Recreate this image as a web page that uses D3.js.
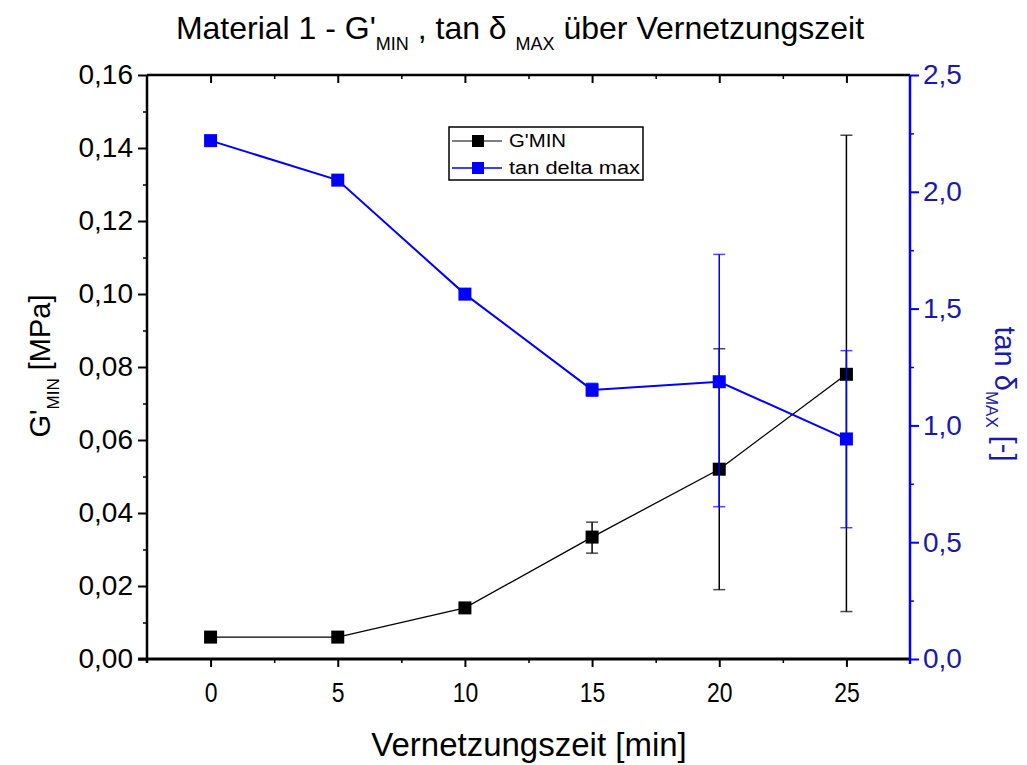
<!DOCTYPE html>
<html><head><meta charset="utf-8">
<script src="https://cdn.jsdelivr.net/npm/d3@7/dist/d3.min.js"></script>
<style>body{margin:0;background:#fff}svg{display:block}</style>
</head><body>
<svg id="c" width="1027" height="765"></svg>
<script>
const times = [0, 5, 10, 15, 20, 25];
const gMin = [0.006, 0.006, 0.014, 0.0334, 0.052, 0.078];
const gMinErrLow = [0.006, 0.006, 0.014, 0.029, 0.019, 0.013];
const gMinErrHigh = [0.006, 0.006, 0.014, 0.0375, 0.085, 0.1435];
const tanMax = [2.219, 2.050, 1.562, 1.152, 1.187, 0.942];
const tanErrLow = [2.219, 2.050, 1.562, 1.125, 0.652, 0.562];
const tanErrHigh = [2.219, 2.050, 1.562, 1.18, 1.732, 1.320];
const xTicks = [0, 5, 10, 15, 20, 25];
const yLeftTicks = [0, 0.02, 0.04, 0.06, 0.08, 0.10, 0.12, 0.14, 0.16];
const yRightTicks = [0, 0.5, 1.0, 1.5, 2.0, 2.5];
const legendLabels = ["G'MIN", "tan delta max"];

const BLUE = "#0000ff";
const svg = d3.select("#c");
const L = 147, R = 910, T = 75, B = 659;
const x = d3.scaleLinear().domain([-2.5, 27.5]).range([L, R]);
const yL = d3.scaleLinear().domain([0, 0.16]).range([B, T]);
const yR = d3.scaleLinear().domain([0, 2.5]).range([B, T]);
const comma = f => v => d3.format(f)(v).replace('.', ',');
const FONT = "'Liberation Sans', Arial, sans-serif";

function minors(major) {
  const out = [];
  for (let i = 0; i < major.length - 1; i++) out.push((major[i] + major[i+1]) / 2);
  return out;
}
const xMinor = [2.5, 7.5, 12.5, 17.5, 22.5];

// Bottom axis
const gx = svg.append("g").attr("transform", `translate(0,${B})`)
  .call(d3.axisBottom(x).tickValues(xTicks).tickSize(8).tickSizeOuter(0).tickPadding(15).tickFormat(d3.format("d")));
gx.select(".domain").remove();
gx.selectAll("text").attr("font-family", FONT).attr("font-size", 28).attr("fill", "#000")
  .attr("transform", "scale(0.82,1)");
gx.selectAll("line").attr("stroke", "#000").attr("stroke-width", 2);
svg.append("g").attr("transform", `translate(0,${B})`)
  .call(d3.axisBottom(x).tickValues(xMinor).tickSize(4).tickFormat(""))
  .call(g => { g.select(".domain").remove(); g.selectAll("line").attr("stroke", "#000").attr("stroke-width", 1.5); });

// Top axis (inward ticks)
svg.append("g").attr("transform", `translate(0,${T})`)
  .call(d3.axisBottom(x).tickValues(xTicks).tickSize(8).tickFormat(""))
  .call(g => { g.select(".domain").remove(); g.selectAll("line").attr("stroke", "#000").attr("stroke-width", 2); });
svg.append("g").attr("transform", `translate(0,${T})`)
  .call(d3.axisBottom(x).tickValues(xMinor).tickSize(4).tickFormat(""))
  .call(g => { g.select(".domain").remove(); g.selectAll("line").attr("stroke", "#000").attr("stroke-width", 1.5); });

// Left axis
const gl = svg.append("g").attr("transform", `translate(${L},0)`)
  .call(d3.axisLeft(yL).tickValues(yLeftTicks).tickSize(9).tickSizeOuter(0).tickPadding(5).tickFormat(comma(".2f")));
gl.select(".domain").remove();
gl.selectAll("text").attr("font-family", FONT).attr("font-size", 28).attr("fill", "#000");
gl.selectAll("line").attr("stroke", "#000").attr("stroke-width", 2);
svg.append("g").attr("transform", `translate(${L},0)`)
  .call(d3.axisLeft(yL).tickValues(minors(yLeftTicks)).tickSize(4).tickFormat(""))
  .call(g => { g.select(".domain").remove(); g.selectAll("line").attr("stroke", "#000").attr("stroke-width", 1.5); });

// Right axis
const gr = svg.append("g").attr("transform", `translate(${R},0)`)
  .call(d3.axisRight(yR).tickValues(yRightTicks).tickSize(9).tickSizeOuter(0).tickPadding(4).tickFormat(comma(".1f")));
gr.select(".domain").remove();
gr.selectAll("text").attr("font-family", FONT).attr("font-size", 28).attr("fill", "#1a1aa8");
gr.selectAll("line").attr("stroke", BLUE).attr("stroke-width", 2);
svg.append("g").attr("transform", `translate(${R},0)`)
  .call(d3.axisRight(yR).tickValues(minors(yRightTicks)).tickSize(4).tickFormat(""))
  .call(g => { g.select(".domain").remove(); g.selectAll("line").attr("stroke", BLUE).attr("stroke-width", 1.5); });

// Frame lines
svg.append("line").attr("x1", L).attr("x2", R).attr("y1", T).attr("y2", T).attr("stroke", "#000").attr("stroke-width", 2.5);
svg.append("line").attr("x1", L).attr("x2", L).attr("y1", T).attr("y2", B + 4).attr("stroke", "#000").attr("stroke-width", 2.5);
svg.append("line").attr("x1", L - 9).attr("x2", R).attr("y1", B).attr("y2", B).attr("stroke", "#000").attr("stroke-width", 3);
svg.append("line").attr("x1", R).attr("x2", R).attr("y1", T).attr("y2", B + 5).attr("stroke", BLUE).attr("stroke-width", 2.5);

// Data
const gData = times.map((t, i) => ({t, v: gMin[i], lo: gMinErrLow[i], hi: gMinErrHigh[i]}));
const tData = times.map((t, i) => ({t, v: tanMax[i], lo: tanErrLow[i], hi: tanErrHigh[i]}));

function series(data, y, color, lw) {
  const g = svg.append("g");
  g.append("path").datum(data)
    .attr("d", d3.line().x(d => x(d.t)).y(d => y(d.v)))
    .attr("fill", "none").attr("stroke", color).attr("stroke-width", lw);
  g.selectAll("rect").data(data).join("rect")
    .attr("x", d => x(d.t) - 6.5).attr("y", d => y(d.v) - 6.5)
    .attr("width", 13).attr("height", 13).attr("fill", color);
  const eb = data.filter(d => d.hi - d.lo > 1e-9);
  g.selectAll("line.err").data(eb).join("line").attr("class", "err")
    .attr("x1", d => x(d.t)).attr("x2", d => x(d.t))
    .attr("y1", d => y(d.lo)).attr("y2", d => y(d.hi))
    .attr("stroke", color).attr("stroke-width", 1.5);
  ["lo", "hi"].forEach(k => {
    g.selectAll("line.cap" + k).data(eb).join("line").attr("class", "cap" + k)
      .attr("x1", d => x(d.t) - 6).attr("x2", d => x(d.t) + 6)
      .attr("y1", d => y(d[k])).attr("y2", d => y(d[k]))
      .attr("stroke", color).attr("stroke-width", 1.5).attr("opacity", 0.7);
  });
}
series(gData, yL, "#000", 1.3);
series(tData, yR, BLUE, 2);

// Legend
const lg = svg.append("g");
lg.append("rect").attr("x", 449).attr("y", 127).attr("width", 194).attr("height", 53)
  .attr("fill", "#fff").attr("stroke", "#000").attr("stroke-width", 1.5);
[["#000", 141], [BLUE, 168]].forEach(([c, yy], i) => {
  lg.append("line").attr("x1", 452).attr("x2", 502).attr("y1", yy).attr("y2", yy)
    .attr("stroke", i === 0 ? "#555" : BLUE).attr("stroke-width", 1.5);
  lg.append("rect").attr("x", 472).attr("y", yy - 6).attr("width", 12).attr("height", 12).attr("fill", c);
  lg.append("text").attr("x", 509).attr("y", yy + 6).attr("font-family", FONT).attr("font-size", 18)
    .attr("fill", "#000").attr("textLength", i === 0 ? 57 : 131).attr("lengthAdjust", "spacingAndGlyphs")
    .text(legendLabels[i]);
});

// Title
const title = svg.append("text").attr("x", 520).attr("y", 39).attr("text-anchor", "middle")
  .attr("font-family", FONT).attr("font-size", 32).attr("fill", "#000");
title.append("tspan").text("Material 1 - G'");
title.append("tspan").attr("font-size", 18).attr("dy", 11).text("MIN");
title.append("tspan").attr("dy", -11).text(" , tan δ ");
title.append("tspan").attr("font-size", 18).attr("dy", 11).text("MAX");
title.append("tspan").attr("dy", -11).text(" über Vernetzungszeit");

// X title
svg.append("text").attr("x", 529).attr("y", 756).attr("text-anchor", "middle")
  .attr("font-family", FONT).attr("font-size", 33).attr("fill", "#000").text("Vernetzungszeit [min]");

// Left y title
const yt = svg.append("text").attr("transform", "translate(50,366) rotate(-90)").attr("text-anchor", "middle")
  .attr("font-family", FONT).attr("font-size", 29).attr("fill", "#000");
yt.append("tspan").text("G'");
yt.append("tspan").attr("font-size", 17).attr("dy", 9).text("MIN");
yt.append("tspan").attr("dy", -9).text(" [MPa]");

// Right y title
const rt = svg.append("text").attr("transform", "translate(995,394) rotate(90)").attr("text-anchor", "middle")
  .attr("font-family", FONT).attr("font-size", 29).attr("fill", "#1a1aa8");
rt.append("tspan").text("tan δ");
rt.append("tspan").attr("font-size", 17).attr("dy", 9).text("MAX");
rt.append("tspan").attr("dy", -9).text(" [-]");
</script>
</body></html>
